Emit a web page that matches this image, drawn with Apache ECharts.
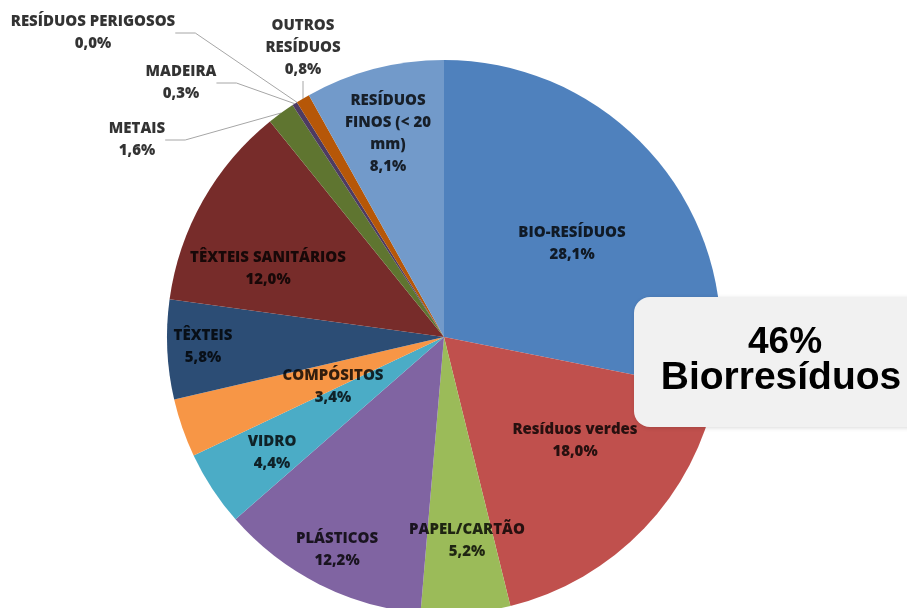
<!DOCTYPE html>
<html>
<head>
<meta charset="utf-8">
<script src="https://cdn.jsdelivr.net/npm/echarts@6/dist/echarts.min.js"></script>
<style>
html,body{margin:0;padding:0;background:#fff;}
#c{width:907px;height:608px;}
</style>
</head>
<body>
<div id="c"></div>
<script>
// ---- data ----
var categories = [
  'BIO-RESÍDUOS', 'Resíduos verdes', 'PAPEL/CARTÃO', 'PLÁSTICOS', 'VIDRO',
  'COMPÓSITOS', 'TÊXTEIS', 'TÊXTEIS SANITÁRIOS', 'METAIS', 'MADEIRA',
  'RESÍDUOS PERIGOSOS', 'OUTROS RESÍDUOS', 'RESÍDUOS FINOS (< 20 mm)'
];
var labelNames = [
  'BIO-RESÍDUOS', 'Resíduos verdes', 'PAPEL/CARTÃO', 'PLÁSTICOS', 'VIDRO',
  'COMPÓSITOS', 'TÊXTEIS', 'TÊXTEIS SANITÁRIOS', 'METAIS', 'MADEIRA',
  'RESÍDUOS PERIGOSOS', 'OUTROS\nRESÍDUOS', 'RESÍDUOS\nFINOS (< 20\nmm)'
];
var values = [28.1, 18.0, 5.2, 12.2, 4.4, 3.4, 5.8, 12.0, 1.6, 0.3, 0.0, 0.8, 8.1];
var calloutTitle = '46%';
var calloutSub = 'Biorresíduos';

// ---- styling (kept separate from data) ----
var colors = ['#4F81BD', '#C0504D', '#9BBB59', '#8064A2', '#4BACC6', '#F79646',
  '#2C4D75', '#772C2A', '#5F7530', '#4D3B62', '#A5A5A5', '#B65708', '#729ACA'];
var outsideIdx = [8, 9, 10, 11];
var labelAt = [
  [572, 244], [575, 441], [467, 541], [337, 550], [272, 453], [333, 387],
  [203, 347], [268, 269], [137, 140], [181, 83], [93, 33], [303, 48], [388, 134]
];

var data = values.map(function (v, i) {
  var outside = outsideIdx.indexOf(i) >= 0;
  return {
    name: categories[i],
    value: v,
    itemStyle: { color: colors[i] },
    label: { position: outside ? 'outside' : 'inside' },
    labelLine: { show: outside }
  };
});

var chart = echarts.init(document.getElementById('c'), null, { renderer: 'canvas' });
chart.setOption({
  animation: false,
  series: [{
    type: 'pie',
    center: [444, 337],
    radius: [0, 277],
    startAngle: 90,
    clockwise: true,
    minAngle: 0,
    avoidLabelOverlap: false,
    stillShowZeroSum: true,
    itemStyle: { borderWidth: 0 },
    label: {
      show: true,
      fontFamily: 'Open Sans',
      fontWeight: 800,
      fontSize: 15,
      lineHeight: 22,
      color: 'rgba(0,0,0,0.8)',
      align: 'center',
      formatter: function (p) {
        return labelNames[p.dataIndex] + '\n' + p.value.toFixed(1).replace('.', ',') + '%';
      }
    },
    labelLine: {
      show: true,
      length: 20,
      length2: 20,
      lineStyle: { color: '#A6A6A6', width: 1 }
    },
    labelLayout: function (p) {
      var pos = labelAt[p.dataIndex];
      return { x: pos[0], y: pos[1], align: 'center', verticalAlign: 'middle' };
    },
    data: data
  }],
  graphic: [
    {
      type: 'rect',
      shape: { x: 634, y: 297, width: 300, height: 130, r: 16 },
      style: { fill: '#F1F1F1', shadowBlur: 4, shadowColor: 'rgba(0,0,0,0.15)', shadowOffsetX: 1, shadowOffsetY: 1 },
      z: 10
    },
    {
      type: 'text',
      x: 785, y: 343,
      style: {
        text: calloutTitle, fill: '#000', font: 'bold 37px "Liberation Sans", Arial, sans-serif',
        align: 'center', verticalAlign: 'middle'
      },
      z: 11
    },
    {
      type: 'text',
      x: 781, y: 378,
      style: {
        text: calloutSub, fill: '#000', font: 'bold 39px "Liberation Sans", Arial, sans-serif',
        align: 'center', verticalAlign: 'middle'
      },
      z: 11
    }
  ]
});
</script>
</body>
</html>
